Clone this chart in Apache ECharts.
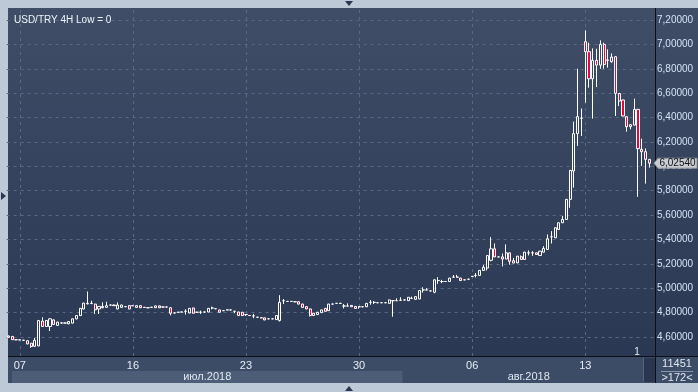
<!DOCTYPE html>
<html><head><meta charset="utf-8">
<script src="https://cdn.jsdelivr.net/npm/echarts@6/dist/echarts.min.js"></script>
<style>
html,body{margin:0;padding:0;background:#bec9d7;overflow:hidden;}
.a{position:absolute;}
#panel{left:8px;top:8px;width:690px;height:375px;background:#3c4b65;}
#plot{left:8px;top:8px;width:647px;height:348px;background:linear-gradient(#3f4d67,#2b3853);}
#raxis{left:656px;top:8px;width:42px;height:348px;background:linear-gradient(#3f4d67,#2b3853);}
#vline{left:655px;top:8px;width:1px;height:375px;background:#0c0f16;}
#hline{left:8px;top:356px;width:690px;height:1px;background:#0c0f16;}
#bottom{left:8px;top:357px;width:647px;height:26px;background:#3d4c66;}
#rbox{left:656px;top:357px;width:42px;height:26px;background:#3d4c66;}
#sep{left:661px;top:371px;width:32px;height:1px;background:#8a97ab;}
#scroll{left:643px;top:358px;width:11px;height:24px;background:#2a3550;border-left:1px solid #56637a;}
#c{position:absolute;left:0;top:0;width:698px;height:392px;}
.tri{position:absolute;width:0;height:0;}
</style></head><body>
<div class="a" id="panel"></div>
<div class="a" id="plot"></div>
<div class="a" id="raxis"></div>
<div class="a" id="bottom"></div>
<div class="a" id="rbox"></div>
<div class="a" id="scroll"></div>
<div class="a" id="vline"></div>
<div class="a" id="hline"></div>
<div class="a" id="sep"></div>
<div class="tri" style="left:345px;top:1px;border-left:4px solid transparent;border-right:4px solid transparent;border-top:5px solid #2a3550;"></div>
<div class="tri" style="left:345px;top:386px;border-left:4px solid transparent;border-right:4px solid transparent;border-bottom:5px solid #2a3550;"></div>
<div class="tri" style="left:1px;top:192px;border-top:4px solid transparent;border-bottom:4px solid transparent;border-left:5px solid #2a3550;"></div>
<div id="c"></div>
<script>
const title = 'USD/TRY 4H Low = 0';
// [open, close, low, high] per 4H bar
const candles = [
[4.597,4.608,4.594,4.612],[4.605,4.578,4.576,4.608],[4.578,4.577,4.574,4.580],[4.577,4.576,4.574,4.579],
[4.574,4.573,4.570,4.576],[4.570,4.543,4.541,4.572],[4.549,4.522,4.511,4.551],[4.524,4.573,4.520,4.592],
[4.527,4.735,4.525,4.740],[4.730,4.686,4.684,4.762],[4.686,4.735,4.684,4.738],[4.686,4.749,4.649,4.755],
[4.740,4.703,4.700,4.745],[4.695,4.722,4.690,4.725],[4.716,4.714,4.710,4.720],[4.714,4.715,4.710,4.718],
[4.708,4.727,4.705,4.730],[4.714,4.749,4.712,4.752],[4.749,4.776,4.745,4.780],[4.776,4.835,4.772,4.838],
[4.830,4.878,4.826,4.880],[4.872,4.876,4.868,4.973],[4.876,4.874,4.870,4.897],[4.870,4.824,4.789,4.872],
[4.830,4.851,4.789,4.853],[4.840,4.851,4.836,4.884],[4.843,4.857,4.840,4.889],[4.862,4.862,4.858,4.866],
[4.862,4.857,4.855,4.866],[4.830,4.862,4.828,4.884],[4.843,4.862,4.840,4.865],[4.849,4.849,4.845,4.852],
[4.857,4.830,4.828,4.860],[4.857,4.857,4.854,4.860],[4.843,4.857,4.840,4.860],[4.857,4.840,4.838,4.860],
[4.843,4.843,4.840,4.846],[4.840,4.840,4.836,4.843],[4.843,4.845,4.840,4.846],[4.840,4.855,4.838,4.857],
[4.855,4.840,4.838,4.857],[4.846,4.846,4.843,4.849],[4.846,4.846,4.843,4.849],[4.840,4.795,4.778,4.845],
[4.797,4.797,4.794,4.800],[4.803,4.803,4.800,4.806],[4.805,4.805,4.802,4.808],[4.811,4.811,4.784,4.827],
[4.797,4.835,4.795,4.838],[4.838,4.795,4.793,4.840],[4.803,4.803,4.800,4.806],[4.803,4.803,4.789,4.816],
[4.805,4.805,4.802,4.808],[4.805,4.835,4.803,4.838],[4.838,4.838,4.827,4.849],[4.832,4.832,4.829,4.835],
[4.822,4.803,4.800,4.824],[4.816,4.816,4.813,4.819],[4.822,4.822,4.819,4.825],[4.822,4.822,4.819,4.825],
[4.811,4.811,4.795,4.814],[4.805,4.776,4.774,4.808],[4.803,4.776,4.774,4.805],[4.784,4.784,4.773,4.787],
[4.776,4.776,4.773,4.779],[4.773,4.773,4.754,4.789],[4.762,4.762,4.759,4.765],[4.757,4.757,4.754,4.760],
[4.757,4.740,4.738,4.759],[4.749,4.749,4.746,4.752],[4.749,4.749,4.746,4.752],[4.743,4.776,4.741,4.779],
[4.735,4.884,4.727,4.943],[4.897,4.897,4.870,4.911],[4.892,4.892,4.889,4.895],[4.892,4.892,4.889,4.895],
[4.889,4.889,4.886,4.892],[4.889,4.870,4.868,4.892],[4.870,4.843,4.841,4.873],[4.849,4.830,4.828,4.852],
[4.830,4.776,4.768,4.833],[4.776,4.795,4.773,4.797],[4.784,4.803,4.781,4.805],[4.800,4.822,4.798,4.824],
[4.835,4.811,4.808,4.837],[4.816,4.870,4.814,4.872],[4.870,4.870,4.867,4.873],[4.876,4.876,4.873,4.879],
[4.876,4.876,4.873,4.879],
[4.854,4.854,4.834,4.870],[4.854,4.854,4.850,4.876],[4.848,4.859,4.846,4.861],[4.851,4.834,4.832,4.853],
[4.848,4.848,4.832,4.851],[4.848,4.848,4.845,4.851],[4.848,4.876,4.846,4.878],[4.884,4.884,4.865,4.904],
[4.884,4.884,4.870,4.895],[4.881,4.881,4.878,4.884],[4.881,4.881,4.878,4.884],[4.881,4.881,4.878,4.884],
[4.876,4.904,4.874,4.906],[4.898,4.898,4.766,4.901],[4.898,4.898,4.895,4.917],[4.901,4.901,4.898,4.926],
[4.904,4.904,4.901,4.907],[4.898,4.926,4.896,4.928],[4.917,4.917,4.914,4.931],[4.909,4.931,4.907,4.933],
[4.912,4.981,4.910,4.983],[4.986,4.986,4.964,5.008],[4.986,4.986,4.983,5.000],[4.978,4.978,4.975,4.981],
[4.967,5.069,4.959,5.071],[5.063,5.063,5.036,5.091],[5.055,5.055,5.041,5.069],[5.055,5.055,5.052,5.058],
[5.055,5.083,5.053,5.085],[5.091,5.091,5.088,5.108],[5.091,5.091,5.088,5.110],[5.083,5.063,5.061,5.085],
[5.069,5.069,5.066,5.072],[5.074,5.074,5.071,5.077],[5.097,5.097,5.094,5.100],[5.105,5.105,5.088,5.124],
[5.105,5.146,5.103,5.148],[5.146,5.171,5.144,5.190],[5.166,5.268,5.146,5.270],[5.229,5.323,5.221,5.419],
[5.323,5.257,5.255,5.367],[5.257,5.257,5.254,5.260],[5.257,5.240,5.179,5.284],[5.240,5.290,5.238,5.359],
[5.290,5.221,5.193,5.292],[5.226,5.207,5.205,5.248],
[5.208,5.263,5.206,5.265],[5.258,5.236,5.234,5.269],[5.236,5.296,5.234,5.298],[5.290,5.290,5.269,5.310],
[5.290,5.290,5.265,5.304],[5.290,5.277,5.275,5.292],[5.269,5.304,5.267,5.306],[5.296,5.326,5.294,5.345],
[5.318,5.406,5.316,5.441],[5.422,5.422,5.367,5.468],[5.414,5.496,5.412,5.498],[5.482,5.537,5.480,5.539],
[5.537,5.564,5.535,5.592],[5.564,5.729,5.562,5.731],[5.729,5.967,5.660,5.969],[5.962,6.268,5.825,6.366],
[6.268,6.407,6.167,6.800],[6.394,6.394,6.249,6.474],
[7.022,6.940,6.522,7.115],[6.940,6.718,6.645,7.014],[6.718,6.869,6.391,6.967],[6.869,6.830,6.650,6.964],
[6.830,7.000,6.800,7.033],[7.000,6.836,6.800,7.014],[6.869,6.872,6.809,6.959],[6.858,6.896,6.850,6.926],
[6.899,6.598,6.413,6.902],[6.598,6.535,6.495,6.600],[6.544,6.413,6.410,6.546],[6.407,6.325,6.284,6.410],
[6.325,6.341,6.303,6.344],[6.338,6.467,6.336,6.555],[6.467,6.145,5.749,6.470],[6.139,6.120,6.003,6.227],
[6.120,6.057,5.858,6.147],[6.057,6.0254,5.989,6.060]
];
const slotCount = 172;            // visible bar slots (">172<")
const priceTicks = [4.6,4.8,5.0,5.2,5.4,5.6,5.8,6.0,6.2,6.4,6.6,6.8,7.0,7.2];
const weekTickIndex = [3,33,63,93,123,153];
const weekTickLabels = ['07','16','23','30','06','13'];
const months = [{label:'июл.2018', endIndex:105}, {label:'авг.2018', endIndex:172}];
const lastPrice = 6.0254;
const barsTotal = '11451';
const barsVisible = '>172<';
const unitLabel = '1';

const categories = [];
for (let i = 0; i < slotCount; i++) categories.push(String(i + 1));
const fmt = v => v.toFixed(5).replace('.', ',');

const chart = echarts.init(document.getElementById('c'), null, {renderer:'canvas'});
const gridLeft = 6.6, gridWidth = 648.4, gridTop = 8, gridHeight = 348;
const yMin = 4.6 - 19/121.92, yMax = 7.2 + 12/121.92;
const font = 'Liberation Sans, Arial, sans-serif';

chart.setOption({
  animation: false,
  backgroundColor: 'transparent',
  title: {text: title, left: 9, top: 10, textStyle: {color:'#eef3fa', fontSize: 10, fontWeight:'normal', fontFamily: font}},
  grid: {left: gridLeft, top: gridTop, width: gridWidth, height: gridHeight},
  xAxis: {
    type: 'category', data: categories, boundaryGap: true,
    axisLine: {show:false}, axisTick: {show:false}, splitLine: {show:false},
    axisLabel: {
      interval: (i) => weekTickIndex.indexOf(i) >= 0,
      formatter: (v, i) => { const k = weekTickIndex.indexOf(i); return k >= 0 ? weekTickLabels[k] : ''; },
      color: '#e6ecf5', fontSize: 11, fontFamily: font, margin: 4
    }
  },
  yAxis: {
    type: 'value', position: 'right', offset: 0, min: yMin, max: yMax, scale: true,
    axisLine: {show:false}, axisTick: {show:false}, splitLine: {show:false},
    axisLabel: {customValues: priceTicks, formatter: fmt, color:'#d4e2f4', fontSize: 10, fontFamily: font, margin: 2, showMinLabel: true, showMaxLabel: true}
  },
  series: [{
    type: 'candlestick',
    data: candles,
    barWidth: 2.6,
    clip: false,
    itemStyle: {color: 'transparent', color0: '#e8063c', borderColor: '#ffffff', borderColor0: '#ffffff', borderWidth: 1},
    markLine: {
      silent: true, symbol: ['none','none'], animation: false, z: 1,
      lineStyle: {color: '#5a6983', type: [3,4], width: 1},
      label: {show: false},
      emphasis: {disabled: true},
      data: [
        ...priceTicks.map(v => ({yAxis: v})),
        ...weekTickIndex.map(i => ({xAxis: categories[i]}))
      ]
    }
  }]
});

// month band below the date labels, placed from axis positions
const xOf = i => chart.convertToPixel({xAxisIndex: 0}, categories[Math.min(i, slotCount - 1)]);
const bandW = gridWidth / slotCount;
const g = [];
let start = 12;
months.forEach((m, k) => {
  const end = m.endIndex >= slotCount ? 655 : xOf(m.endIndex) - bandW / 2;
  if (k === 0) g.push({type:'rect', shape:{x:start, y:371, width:end-start, height:12}, style:{fill:'#4d5d78'}, silent:true});
  g.push({type:'text', x:(start+end)/2, y:377, style:{text:m.label, fill:'#dfe6f0', font:'11px ' + font, align:'center', verticalAlign:'middle'}, silent:true});
  start = end;
});
g.push({type:'text', x:677, y:364, style:{text:barsTotal, fill:'#dfe6f0', font:'11px ' + font, align:'center', verticalAlign:'middle'}, silent:true});
g.push({type:'text', x:677, y:378, style:{text:barsVisible, fill:'#dfe6f0', font:'11px ' + font, align:'center', verticalAlign:'middle'}, silent:true});
g.push({type:'text', x:637, y:352, style:{text:unitLabel, fill:'#e6ecf5', font:'10px ' + font, align:'center', verticalAlign:'middle'}, silent:true});
// last price tag on the price axis
const py = chart.convertToPixel({yAxisIndex: 0}, lastPrice);
g.push({type:'polygon', shape:{points:[[654,py],[658,py-5],[697,py-5],[697,py+5],[658,py+5]]},
        style:{fill:'#c9cdd2', stroke:'#8a8f96', lineWidth:1}, silent:true, z: 10});
g.push({type:'text', x:677.5, y:py, style:{text:fmt(lastPrice), fill:'#111', font:'10px ' + font, align:'center', verticalAlign:'middle'}, silent:true, z: 11});
chart.setOption({graphic: g});
</script>
</body></html>
